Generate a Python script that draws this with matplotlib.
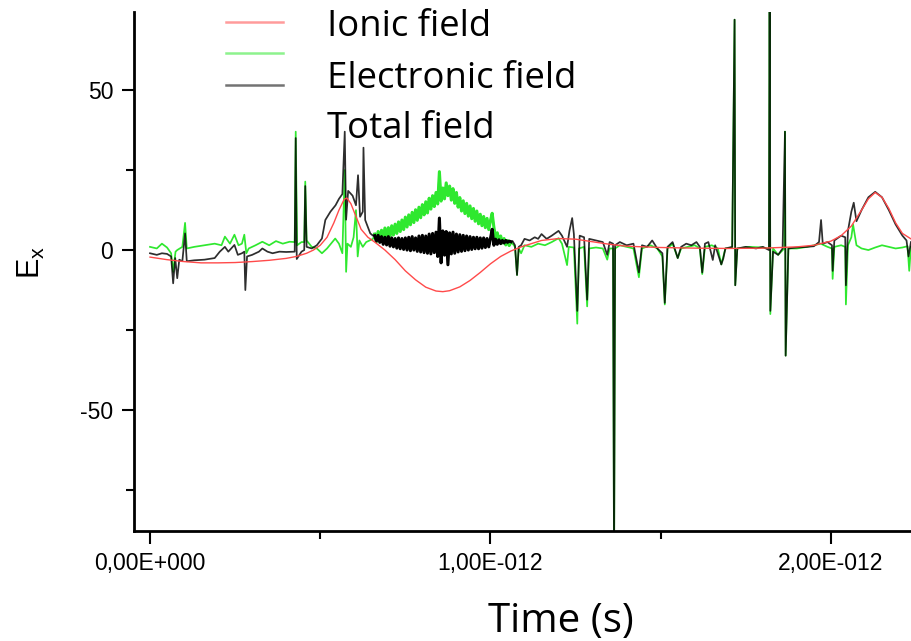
import numpy as np
import matplotlib
matplotlib.use("Agg")
import matplotlib.pyplot as plt
from matplotlib.lines import Line2D
from matplotlib.ticker import FixedLocator

# ---------------- data (time in ps, field in arbitrary units) ----------------
ionic_t = [0.0, 0.05, 0.1, 0.15, 0.2, 0.25, 0.3, 0.35, 0.4, 0.43,
           0.46, 0.48, 0.5, 0.52, 0.54, 0.555, 0.57, 0.578, 0.59, 0.605,
           0.62, 0.64, 0.66, 0.69, 0.72, 0.75, 0.78, 0.81, 0.84, 0.86,
           0.88, 0.91, 0.94, 0.97, 1.0, 1.03, 1.06, 1.09, 1.12, 1.15,
           1.2, 1.25, 1.3, 1.35, 1.4, 1.5, 1.6, 1.7, 1.8, 1.9,
           1.95, 2.0, 2.03, 2.06, 2.09, 2.11, 2.13, 2.15, 2.17, 2.19,
           2.21, 2.235]
ionic_v = [-2.2, -3.0, -3.6, -4.0, -4.0, -3.9, -3.6, -3.2, -2.6, -2.0,
           -1.0, 0.0, 1.5, 4.0, 8.5, 12.5, 15.8, 16.3, 14.5, 10.5,
           6.5, 4.0, 2.5, 0.0, -3.0, -6.5, -9.3, -11.6, -12.8, -13.0,
           -12.7, -11.5, -9.5, -7.0, -4.3, -2.0, -0.3, 1.0, 2.0, 3.0,
           3.6, 3.4, 2.6, 1.8, 1.2, 0.8, 0.6, 0.5, 0.6, 1.0,
           1.5, 2.8, 4.5, 7.5, 12.5, 16.0, 18.0, 16.5, 13.0, 8.5,
           5.2, 3.5]

electronic_t_start = [0.0, 0.02, 0.035, 0.05, 0.062, 0.068, 0.075, 0.08, 0.095, 0.103,
                      0.108, 0.13, 0.16, 0.19, 0.21, 0.22, 0.235, 0.248, 0.26, 0.27,
                      0.277, 0.283, 0.29, 0.31, 0.33, 0.35, 0.37, 0.39, 0.41, 0.425,
                      0.428, 0.432, 0.445, 0.453, 0.456, 0.46, 0.475, 0.49, 0.505, 0.52,
                      0.544, 0.555, 0.565, 0.572, 0.576, 0.58, 0.59, 0.598, 0.605, 0.61,
                      0.615, 0.625, 0.635, 0.645, 0.655]
electronic_v_start = [1.0, 0.5, 2.0, 0.8, -1.0, -6.8, -0.5, 0.0, 1.0, 8.5,
                      0.5, 1.0, 1.5, 2.0, 1.5, 4.2, 2.0, 4.8, 1.5, 2.0,
                      4.8, -1.0, 0.5, 1.5, 2.6, 1.5, 2.8, 2.0, 2.6, 2.5,
                      37.0, 1.5, 2.5, 2.5, 21.4, 3.0, 1.0, 0.5, -1.0, 0.5,
                      3.6, 2.0, -1.0, 25.0, -6.8, 2.0, 1.0, 4.0, 12.5, -2.0,
                      3.0, 1.0, 2.5, 3.0, 3.5]

total_t_start = [0.0, 0.02, 0.035, 0.05, 0.062, 0.068, 0.074, 0.08, 0.086, 0.095,
                 0.103, 0.108, 0.13, 0.16, 0.19, 0.205, 0.22, 0.23, 0.248, 0.258,
                 0.27, 0.277, 0.28, 0.285, 0.30, 0.32, 0.33, 0.345, 0.36, 0.38,
                 0.40, 0.425, 0.428, 0.431, 0.445, 0.453, 0.456, 0.46, 0.475, 0.49,
                 0.505, 0.515, 0.53, 0.545, 0.555, 0.565, 0.572, 0.576, 0.582, 0.595,
                 0.605, 0.611, 0.617, 0.625, 0.627, 0.632, 0.647, 0.655]
total_v_start = [-1.0, -1.5, -1.0, -1.2, -2.0, -10.4, -2.5, -8.8, -3.0, -3.5,
                 5.2, -3.5, -3.2, -3.0, -2.5, -0.5, 1.0, -0.5, 1.6, -1.5,
                 -1.0, -0.5, -12.5, -2.0, -1.5, -0.5, 0.5, -0.5, -1.0, -0.5,
                 -0.6, -0.5, 35.0, -2.8, -0.5, 0.0, 20.0, 1.0, 0.5, 1.5,
                 3.6, 9.4, 12.0, 14.0, 16.0, 17.5, 37.0, 9.5, 18.5, 17.0,
                 14.0, 23.4, 10.4, 12.0, 32.0, 9.4, 5.2, 4.5]

hump_t = [0.660, 0.665, 0.670, 0.675, 0.680, 0.685, 0.690, 0.695, 0.700, 0.705,
          0.710, 0.715, 0.720, 0.725, 0.730, 0.735, 0.740, 0.745, 0.750, 0.755,
          0.760, 0.765, 0.770, 0.775, 0.780, 0.785, 0.790, 0.795, 0.800, 0.805,
          0.810, 0.815, 0.820, 0.825, 0.830, 0.835, 0.840, 0.845, 0.850, 0.855,
          0.860, 0.865, 0.870, 0.875, 0.880, 0.885, 0.890, 0.895, 0.900, 0.905,
          0.910, 0.915, 0.920, 0.925, 0.930, 0.935, 0.940, 0.945, 0.950, 0.955,
          0.960, 0.965, 0.970, 0.975, 0.980, 0.985, 0.990, 0.995, 1.000, 1.005,
          1.010, 1.015, 1.020, 1.025, 1.030, 1.035, 1.040, 1.045, 1.050, 1.055,
          1.060]
electronic_hump = [5.0, 2.6, 5.8, 3.0, 6.2, 3.4, 6.9, 3.8, 7.0, 4.3,
                   7.6, 4.7, 8.1, 5.2, 8.8, 5.8, 9.4, 6.4, 10.3, 7.2,
                   11.0, 7.9, 11.8, 8.6, 12.6, 9.3, 13.4, 10.1, 14.2, 11.0,
                   15.1, 11.6, 16.2, 12.8, 17.0, 13.6, 18.0, 14.4, 24.5, 15.3,
                   19.4, 16.0, 21.0, 17.0, 20.0, 15.6, 19.2, 14.6, 18.0, 13.4,
                   16.4, 12.2, 15.4, 11.4, 14.6, 10.6, 13.8, 9.8, 13.0, 9.0,
                   12.2, 8.2, 11.2, 7.6, 10.5, 7.0, 9.9, 6.4, 9.2, 11.5,
                   7.2, 3.8, 5.4, 2.8, 4.4, 2.2, 3.6, 1.6, 3.0, 1.4,
                   2.4]
total_hump = [4.5, 2.8, 4.6, 2.4, 4.2, 1.8, 4.0, 1.6, 4.2, 1.2,
              3.8, 1.0, 3.6, 0.6, 3.8, 0.4, 3.6, 0.2, 3.8, 0.0,
              4.0, -0.2, 4.2, 0.0, 3.8, -0.4, 4.4, -0.6, 4.6, -0.8,
              4.4, -1.0, 5.0, -1.2, 5.2, -0.8, 5.6, -2.0, 10.0, -4.0,
              6.0, -1.6, 5.8, -4.6, 5.4, -1.2, 5.6, -1.0, 5.0, -0.6,
              4.8, -0.4, 4.6, -0.2, 4.4, 0.0, 4.2, 0.2, 4.0, 0.4,
              4.0, 0.4, 3.8, 0.6, 3.8, 0.8, 3.6, 1.0, 3.6, 6.5,
              1.5, 3.4, 1.8, 3.2, 2.0, 3.0, 2.2, 3.0, 2.4, 2.8,
              2.6]

electronic_t_end = [1.065, 1.072, 1.078, 1.083, 1.09, 1.10, 1.12, 1.14, 1.16, 1.18,
                    1.20, 1.21, 1.225, 1.23, 1.245, 1.255, 1.26, 1.275, 1.284, 1.29,
                    1.31, 1.33, 1.343, 1.35, 1.36, 1.363, 1.366, 1.38, 1.40, 1.42,
                    1.436, 1.445, 1.47, 1.49, 1.505, 1.512, 1.52, 1.535, 1.55, 1.56,
                    1.58, 1.60, 1.615, 1.622, 1.63, 1.65, 1.668, 1.678, 1.69, 1.71,
                    1.717, 1.719, 1.725, 1.76, 1.80, 1.818, 1.820, 1.822, 1.83, 1.845,
                    1.863, 1.865, 1.867, 1.875, 1.90, 1.93, 1.95, 1.97, 1.99, 2.003,
                    2.005, 2.01, 2.03, 2.042, 2.044, 2.05, 2.06, 2.065, 2.075, 2.09,
                    2.11, 2.13, 2.15, 2.17, 2.19, 2.21, 2.225, 2.23, 2.235]
electronic_v_end = [2.0, 1.0, -7.8, 0.5, -1.0, 1.5, 1.0, 2.0, 1.5, 2.5,
                    3.7, 2.0, -4.7, 1.0, 0.8, -23.0, 0.5, 1.0, -17.6, 0.5,
                    0.8, 0.5, -3.0, 0.5, 0.5, -100.0, 0.5, 1.5, 1.0, 0.5,
                    -8.5, 0.5, 1.5, 0.5, -2.0, -17.0, 0.5, 2.0, -2.5, 0.5,
                    1.0, 1.5, 0.5, -7.5, 1.0, 1.5, 0.5, -4.5, 0.5, 0.8,
                    72.0, -11.0, 0.5, 1.0, 0.8, 0.5, 90.0, -20.0, 0.5, -1.5,
                    0.5, 37.0, -33.0, 0.5, 0.5, 1.0, 1.5, 2.0, 1.0, 0.5,
                    -9.0, 1.0, 1.5, 1.0, -17.0, 1.5, 4.0, 8.0, 1.5, 0.5,
                    0.0, 0.8, 1.5, 1.0, 0.5, 0.8, 1.2, -6.5, 1.0]

total_t_end = [1.065, 1.072, 1.078, 1.083, 1.09, 1.10, 1.115, 1.13, 1.14, 1.15,
               1.165, 1.18, 1.20, 1.21, 1.225, 1.232, 1.240, 1.245, 1.255, 1.262,
               1.275, 1.284, 1.29, 1.31, 1.33, 1.343, 1.35, 1.36, 1.363, 1.366,
               1.38, 1.40, 1.42, 1.436, 1.445, 1.46, 1.475, 1.49, 1.505, 1.512,
               1.52, 1.535, 1.55, 1.56, 1.575, 1.59, 1.605, 1.615, 1.622, 1.63,
               1.64, 1.653, 1.66, 1.678, 1.684, 1.69, 1.71, 1.717, 1.719, 1.725,
               1.75, 1.78, 1.80, 1.818, 1.820, 1.822, 1.83, 1.845, 1.858, 1.865,
               1.867, 1.875, 1.90, 1.93, 1.95, 1.965, 1.971, 1.976, 1.99, 2.003,
               2.005, 2.01, 2.03, 2.042, 2.044, 2.05, 2.06, 2.067, 2.075, 2.09,
               2.11, 2.13, 2.15, 2.17, 2.19, 2.21, 2.222, 2.228, 2.235]
total_v_end = [2.8, 1.5, -7.8, 1.0, 1.5, 3.5, 3.0, 4.0, 3.5, 5.0,
               3.5, 4.5, 6.0, 4.5, 1.0, 6.0, 10.0, 5.0, -19.0, 4.5,
               4.0, -15.5, 3.5, 3.0, 2.5, -1.5, 2.5, 2.0, -100.0, 1.5,
               2.5, 1.5, 2.0, -7.0, 1.5, 1.0, 3.0, 0.5, -1.0, -16.5,
               1.0, 2.5, -2.5, 1.0, 2.0, 1.5, 2.5, 1.0, -7.0, 2.0,
               2.5, -3.1, 1.5, -4.5, -2.6, 0.5, 1.0, 72.0, -11.0, 0.5,
               1.0, 0.5, 1.0, 0.0, 90.0, -19.0, -0.5, -1.5, 0.5, 37.0,
               -33.0, 0.5, 0.8, 1.0, 1.2, 2.5, 9.4, 2.0, 2.5, 1.5,
               -6.5, 3.0, 4.5, 4.0, -11.0, 6.0, 12.0, 14.8, 9.0, 12.5,
               16.5, 18.2, 16.5, 12.5, 8.0, 4.5, 3.0, -2.0, 2.5]

series_labels = ["Ionic field", "Electronic field", "Total field"]
xtick_values_ps = [0.0, 1.0, 2.0]
xtick_labels = ["0,00E+000", "1,00E-012", "2,00E-012"]
xminor_ps = [0.5, 1.5]
ytick_values = [-50, 0, 50]
ytick_labels = ["-50", "0", "50"]
yminor = [-75, -25, 25]

# ---------------- assemble ----------------
PS = 1e-12
ion_t = np.array(ionic_t) * PS
ion_v = np.array(ionic_v)
ele_t = np.array(electronic_t_start + hump_t + electronic_t_end) * PS
ele_v = np.array(electronic_v_start + electronic_hump + electronic_v_end)
tot_t = np.array(total_t_start + hump_t + total_t_end) * PS
tot_v = np.array(total_v_start + total_hump + total_v_end)
hump_s = np.array(hump_t) * PS

RED = "#ff4a4a"
GREEN = "#2fe82f"
BLACK = "#000000"

fig = plt.figure(figsize=(9.11, 6.41), dpi=100)
ax = fig.add_axes([134 / 911, 1 - 531 / 641, 780 / 911, 519 / 641])

ax.plot(ele_t, ele_v, color=GREEN, lw=1.25, zorder=2)
# the fast oscillation of the hump region renders as a thick band
ax.plot(hump_s, electronic_hump, color=GREEN, lw=2.2, zorder=2)
ax.plot(tot_t, tot_v, color=BLACK, lw=1.25, alpha=0.82, zorder=3)
ax.plot(hump_s, total_hump, color=BLACK, lw=2.2, zorder=3)
ax.plot(ion_t, ion_v, color=RED, lw=1.0, zorder=4)

ax.set_xlim(-0.047 * PS, 2.244 * PS)
ax.set_ylim(-87.8, 74.4)

for s in ["top", "right"]:
    ax.spines[s].set_visible(False)
for s in ["left", "bottom"]:
    ax.spines[s].set_linewidth(2.0)

ax.set_xticks([v * PS for v in xtick_values_ps])
ax.set_xticklabels(xtick_labels)
ax.xaxis.set_minor_locator(FixedLocator([v * PS for v in xminor_ps]))
ax.set_yticks(ytick_values)
ax.set_yticklabels(ytick_labels)
ax.yaxis.set_minor_locator(FixedLocator(yminor))

ax.tick_params(which="major", direction="out", length=9, width=1.5, pad=6,
               labelsize=16.5)
ax.tick_params(which="minor", direction="out", length=6, width=1.5)
for lab in ax.get_xticklabels() + ax.get_yticklabels():
    lab.set_fontfamily("Liberation Sans")

# y-axis label
fig.text(31 / 911, 1 - 262 / 641, r"E$_\mathregular{x}$", rotation=90,
         ha="center", va="center", fontsize=22, family="Liberation Sans")

# x-axis title
fig.text(561 / 911, 1 - 632 / 641, "Time (s)", ha="center", va="baseline",
         fontsize=29, family="Open Sans")

# overlay legend
leg_colors = [RED, GREEN, BLACK]
leg_line_y = [22, 53, 85]
leg_text_base = [36, 88, 138]
for lab, col, ly, tb in zip(series_labels, leg_colors, leg_line_y, leg_text_base):
    fig.add_artist(Line2D([226 / 911, 283 / 911], [1 - ly / 641, 1 - ly / 641],
                          transform=fig.transFigure, color=col, lw=1.8, alpha=0.55))
    fig.text(327 / 911, 1 - tb / 641, lab, ha="left", va="baseline",
             fontsize=26.3, family="Open Sans")

fig.savefig("out.png", dpi=100)
